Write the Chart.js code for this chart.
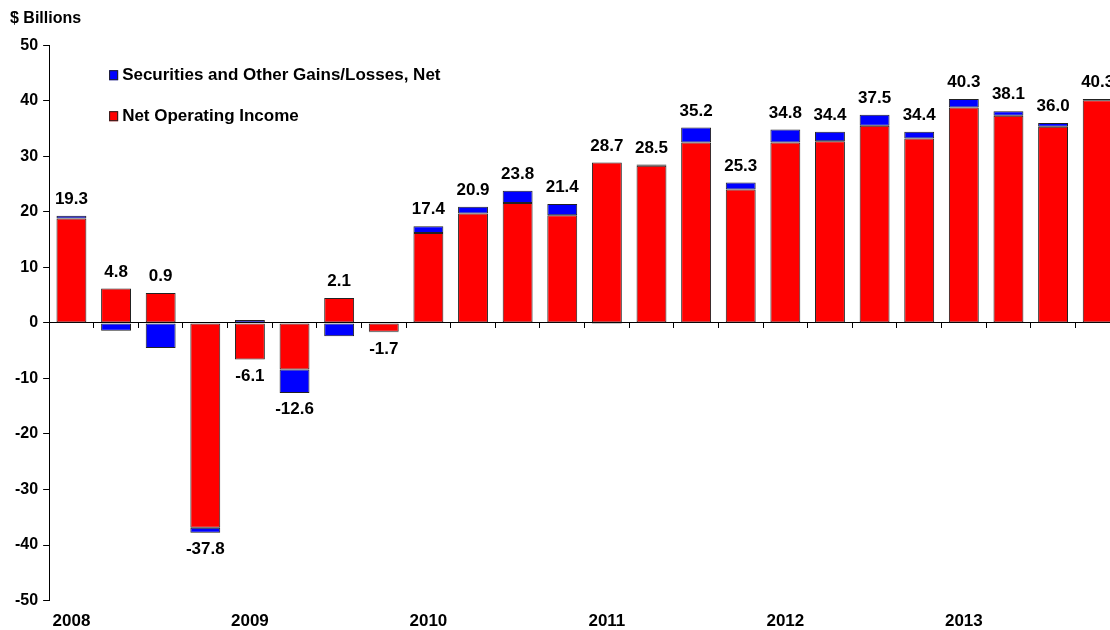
<!DOCTYPE html>
<html>
<head>
<meta charset="utf-8">
<title>Net Income</title>
<script src="https://cdn.jsdelivr.net/npm/chart.js@4.4.1/dist/chart.umd.min.js"></script>
<style>
  html, body { margin: 0; padding: 0; background: #fff; overflow: hidden; }
  #wrap { width: 1122px; height: 643px; }
</style>
</head>
<body>
<div id="wrap"><canvas id="incomeChart" width="1122" height="643"></canvas></div>
<script>
// quarterly, 2008 Q1 .. 2013 Q4
const quarters = [
    "2008 Q1", "2008 Q2", "2008 Q3", "2008 Q4",
    "2009 Q1", "2009 Q2", "2009 Q3", "2009 Q4",
    "2010 Q1", "2010 Q2", "2010 Q3", "2010 Q4",
    "2011 Q1", "2011 Q2", "2011 Q3", "2011 Q4",
    "2012 Q1", "2012 Q2", "2012 Q3", "2012 Q4",
    "2013 Q1", "2013 Q2", "2013 Q3", "2013 Q4"
];
const yearLabels = [
    "2008", "", "", "", "2009", "", "", "",
    "2010", "", "", "", "2011", "", "", "",
    "2012", "", "", "", "2013", "", "", ""
];
const netOperatingIncome = [
    18.8, 6.2, 5.4, -36.9, -6.6, -8.4, 4.5, -1.6,
    16.2, 19.7, 21.6, 19.4, 28.9, 28.3, 32.5, 24.0,
    32.5, 32.7, 35.5, 33.2, 38.8, 37.3, 35.3, 40.1
];
const securitiesGains = [
    0.5, -1.4, -4.5, -0.9, 0.5, -4.2, -2.4, -0.1,
    1.2, 1.2, 2.2, 2.0, -0.2, 0.2, 2.7, 1.3,
    2.3, 1.7, 2.0, 1.2, 1.5, 0.8, 0.7, 0.2
];
const yTicks = [-50, -40, -30, -20, -10, 0, 10, 20, 30, 40, 50];

const FONT = "'Liberation Sans', Arial, sans-serif";

// total above each bar (below it when the quarter is a loss)
const totalLabels = {
    id: "totalLabels",
    afterDatasetsDraw(chart) {
        const ctx = chart.ctx;
        const y = chart.scales.y;
        const meta = chart.getDatasetMeta(0);
        ctx.save();
        ctx.font = "bold 17px " + FONT;
        ctx.fillStyle = "#000";
        ctx.textAlign = "center";
        quarters.forEach((q, i) => {
            const vals = [netOperatingIncome[i], securitiesGains[i]];
            const pos = vals.filter(v => v > 0).reduce((a, b) => a + b, 0);
            const neg = vals.filter(v => v < 0).reduce((a, b) => a + b, 0);
            const total = vals[0] + vals[1];
            const x = meta.data[i].x;
            if (total >= 0) {
                ctx.textBaseline = "bottom";
                ctx.fillText(total.toFixed(1), x, y.getPixelForValue(pos) - 8);
            } else {
                ctx.textBaseline = "top";
                ctx.fillText(total.toFixed(1), x, y.getPixelForValue(neg) + 8);
            }
        });
        ctx.restore();
    }
};

// legend inside the plot area, blue series listed first
const insideLegend = {
    id: "insideLegend",
    afterDraw(chart) {
        const ctx = chart.ctx;
        const area = chart.chartArea;
        const items = chart.data.datasets.slice().reverse();
        ctx.save();
        ctx.font = "bold 17px " + FONT;
        ctx.textBaseline = "middle";
        ctx.textAlign = "left";
        items.forEach((ds, k) => {
            const bx = area.left + 60;
            const by = area.top + 30 + k * 41;
            ctx.fillStyle = ds.backgroundColor;
            ctx.fillRect(bx, by - 5, 9, 10);
            ctx.strokeStyle = "#222";
            ctx.lineWidth = 1;
            ctx.strokeRect(bx + 0.5, by - 4.5, 8, 9);
            ctx.fillStyle = "#000";
            ctx.fillText(ds.label, bx + 13, by);
        });
        ctx.restore();
    }
};

new Chart(document.getElementById("incomeChart"), {
    type: "bar",
    data: {
        labels: quarters,
        datasets: [{
            label: "Net Operating Income",
            data: netOperatingIncome,
            backgroundColor: "#ff0000",
            borderColor: "#222222",
            borderWidth: 1,
            borderSkipped: false
        }, {
            label: "Securities and Other Gains/Losses, Net",
            data: securitiesGains,
            backgroundColor: "#0000ff",
            borderColor: "#222222",
            borderWidth: 1,
            borderSkipped: false
        }]
    },
    options: {
        responsive: false,
        animation: false,
        layout: { padding: { left: 10, right: 2, top: 0, bottom: 0 } },
        datasets: { bar: { categoryPercentage: 1, barPercentage: 0.67 } },
        plugins: {
            legend: { display: false },
            tooltip: { enabled: false },
            title: {
                display: true,
                text: "$ Billions",
                align: "start",
                color: "#000",
                font: { family: FONT, size: 16, weight: "bold" },
                padding: { top: 9, bottom: 17 }
            }
        },
        scales: {
            x: {
                stacked: true,
                position: { y: 0 },
                offset: true,
                ticks: { display: false },
                grid: {
                    offset: true,
                    drawOnChartArea: false,
                    drawTicks: true,
                    tickLength: 5,
                    color: "#000"
                },
                border: { color: "#000", width: 1 }
            },
            years: {
                type: "category",
                position: "bottom",
                labels: yearLabels,
                offset: true,
                grid: { display: false, drawTicks: false },
                border: { display: false },
                ticks: {
                    autoSkip: false,
                    maxRotation: 0,
                    padding: 11,
                    color: "#000",
                    font: { family: FONT, size: 17, weight: "bold" }
                }
            },
            y: {
                stacked: true,
                min: -50,
                max: 50,
                afterBuildTicks(axis) {
                    axis.ticks = yTicks.map(v => ({ value: v }));
                },
                ticks: {
                    padding: 5,
                    color: "#000",
                    font: { family: FONT, size: 16, weight: "bold" }
                },
                grid: {
                    drawOnChartArea: false,
                    drawTicks: true,
                    tickLength: 6,
                    color: "#000"
                },
                border: { color: "#000", width: 1 }
            }
        }
    },
    plugins: [totalLabels, insideLegend]
});
</script>
</body>
</html>
